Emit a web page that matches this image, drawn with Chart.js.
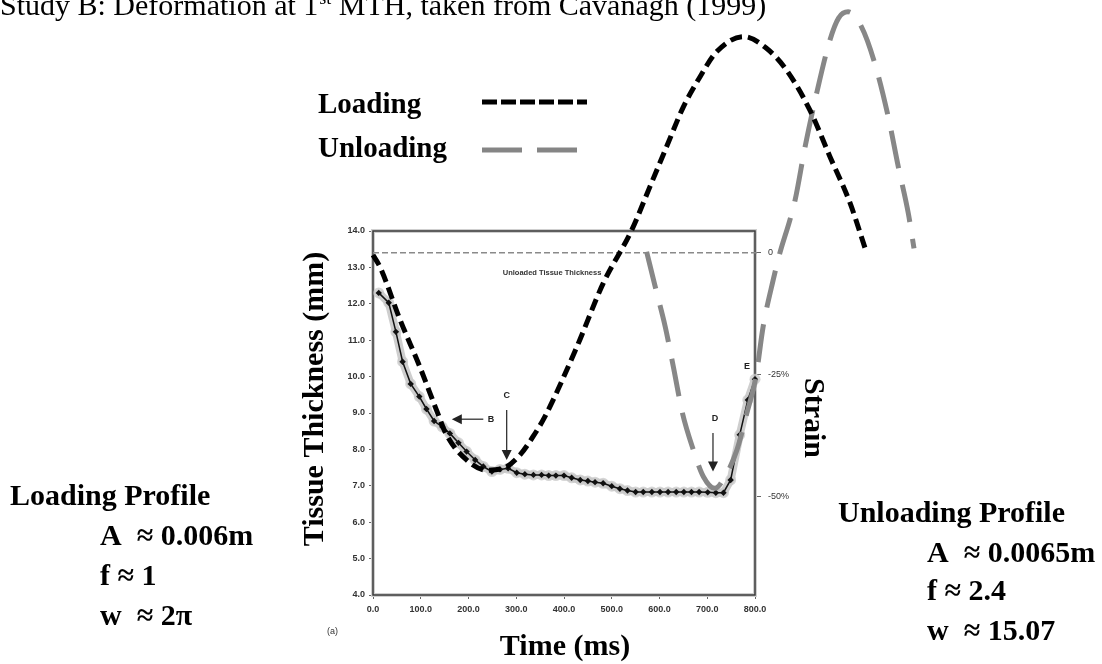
<!DOCTYPE html>
<html>
<head>
<meta charset="utf-8">
<script src="https://cdn.jsdelivr.net/npm/chart.js@4.4.1/dist/chart.umd.min.js"></script>
<style>
  html, body { margin: 0; padding: 0; background: #fff; }
</style>
</head>
<body>
<canvas id="deformChart" width="1102" height="664"></canvas>
<script>
// measured tissue thickness under the 1st MTH (ms, mm)
const measuredTime = [12, 33, 48, 62, 79, 97, 112, 128, 145, 161, 179, 196, 214, 231, 249, 266, 283, 301, 318, 336,
    353, 368, 383, 400, 416, 434, 450, 465, 482, 500, 517, 533, 550, 566, 584, 601, 618, 635, 651, 667,
    683, 701, 718, 734, 749, 768, 785, 800];
const measuredThickness = [12.3, 12.03, 11.23, 10.41, 9.80, 9.45, 9.11, 8.78, 8.62, 8.44, 8.18, 7.94, 7.71, 7.53, 7.39, 7.45, 7.48, 7.36, 7.32, 7.30,
    7.30, 7.28, 7.28, 7.28, 7.22, 7.16, 7.13, 7.10, 7.07, 6.99, 6.92, 6.87, 6.83, 6.83, 6.83, 6.83, 6.83, 6.83, 6.83, 6.83,
    6.83, 6.82, 6.81, 6.81, 7.16, 8.40, 9.36, 9.93];

// fitted loading profile (black short dash)
const loadingTime = [0, 15, 57, 98, 133, 154, 196, 238, 273, 308, 335, 360, 427, 482, 542, 580, 615, 650, 685, 720,
    776, 824, 866, 915, 957, 999, 1034];
const loadingThickness = [13.34, 13.0, 11.55, 10.27, 9.08, 8.40, 7.71, 7.43, 7.48, 7.85, 8.35, 8.9, 10.82, 12.56, 14.03, 15.22, 16.32, 17.41, 18.24, 18.93,
    19.34, 19.02, 18.42, 17.32, 16.04, 14.77, 13.39];

// fitted unloading profile (grey long dash)
const unloadingTime = [573, 591, 612, 629, 648, 671, 692, 716, 737, 762, 783, 802, 817, 838, 852, 873, 884, 905, 929, 957,
    975, 995, 1023, 1051, 1079, 1100, 1121, 1133];
const unloadingThickness = [13.43, 12.47, 11.37, 10.27, 9.0, 7.98, 7.25, 6.93, 7.25, 7.98, 9.0, 10.0, 11.37, 12.65, 13.39, 14.3, 14.85, 16.32, 17.78, 19.25,
    19.85, 20.02, 19.61, 18.6, 17.14, 15.77, 14.49, 13.52];

const unloadedLevel = 13.4;
const timeTicks = [0, 100, 200, 300, 400, 500, 600, 700, 800];
const thicknessTicks = [4, 5, 6, 7, 8, 9, 10, 11, 12, 13, 14];
const strainTicks = [0, -25, -50];
const strainLabels = ['0', '-25%', '-50%'];

// arrow annotations on the original graph
const arrowNames = ['B', 'C', 'D'];
const arrowFrom = [[231, 8.83], [280, 9.08], [712, 8.45]];
const arrowTo = [[165, 8.83], [280, 7.71], [712, 7.39]];
const arrowText = [[247, 8.83], [280, 9.47], [716, 8.85]];
const pointE = [783, 10.27];

const toPoints = (xs, ys) => xs.map((x, i) => ({ x: x, y: ys[i] }));
const serif = "'Liberation Serif', 'Times New Roman', serif";
const sans = "'Liberation Sans', Arial, sans-serif";
const tickFont = { family: sans, size: 9, weight: 'bold' };

const figureText = {
    id: 'figureText',
    beforeDatasetsDraw(chart) {
        const { ctx, chartArea: a } = chart;
        ctx.save();
        ctx.strokeStyle = '#cfcfcf';
        ctx.lineWidth = 4;
        ctx.strokeRect(a.left, a.top, a.right - a.left, a.bottom - a.top);
        ctx.strokeStyle = '#3a3a3a';
        ctx.lineWidth = 1.5;
        ctx.strokeRect(a.left, a.top, a.right - a.left, a.bottom - a.top);
        ctx.restore();
    },
    afterDatasetsDraw(chart) {
        const { ctx, scales: { x, y } } = chart;
        ctx.save();
        ctx.strokeStyle = '#222';
        ctx.fillStyle = '#222';
        ctx.lineWidth = 1.2;
        arrowNames.forEach((name, i) => {
            const x0 = x.getPixelForValue(arrowFrom[i][0]), y0 = y.getPixelForValue(arrowFrom[i][1]);
            const x1 = x.getPixelForValue(arrowTo[i][0]), y1 = y.getPixelForValue(arrowTo[i][1]);
            const ang = Math.atan2(y1 - y0, x1 - x0);
            ctx.beginPath();
            ctx.moveTo(x0, y0);
            ctx.lineTo(x1 - 8 * Math.cos(ang), y1 - 8 * Math.sin(ang));
            ctx.stroke();
            ctx.beginPath();
            ctx.moveTo(x1, y1);
            ctx.lineTo(x1 - 10 * Math.cos(ang) + 5 * Math.sin(ang), y1 - 10 * Math.sin(ang) - 5 * Math.cos(ang));
            ctx.lineTo(x1 - 10 * Math.cos(ang) - 5 * Math.sin(ang), y1 - 10 * Math.sin(ang) + 5 * Math.cos(ang));
            ctx.closePath();
            ctx.fill();
            ctx.font = 'bold 9px ' + sans;
            ctx.textAlign = 'center';
            ctx.textBaseline = 'middle';
            ctx.fillText(name, x.getPixelForValue(arrowText[i][0]), y.getPixelForValue(arrowText[i][1]));
        });
        ctx.fillText('E', x.getPixelForValue(pointE[0]), y.getPixelForValue(pointE[1]));
        ctx.fillStyle = '#333';
        ctx.font = 'bold 7.5px ' + sans;
        ctx.fillText('Unloaded Tissue Thickness', x.getPixelForValue(375), y.getPixelForValue(12.84));
        ctx.restore();
    },
    afterDraw(chart) {
        const ctx = chart.ctx;
        ctx.save();
        ctx.fillStyle = '#000';
        ctx.textBaseline = 'alphabetic';
        ctx.textAlign = 'left';

        // heading with superscript
        ctx.font = '30px ' + serif;
        let part = 'Study B: Deformation at 1';
        ctx.fillText(part, 0, 15);
        let px = ctx.measureText(part).width;
        ctx.font = '18px ' + serif;
        ctx.fillText('st', px + 1, 4);
        px += ctx.measureText('st').width + 1;
        ctx.font = '30px ' + serif;
        ctx.fillText(' MTH, taken from Cavanagh (1999)', px, 15);

        // legend
        ctx.font = 'bold 29px ' + serif;
        ctx.fillText('Loading', 318, 113);
        ctx.fillText('Unloading', 318, 157);
        ctx.lineWidth = 5;
        ctx.strokeStyle = '#000';
        ctx.setLineDash([15, 4]);
        ctx.beginPath(); ctx.moveTo(482, 102); ctx.lineTo(587, 102); ctx.stroke();
        ctx.strokeStyle = '#858585';
        ctx.setLineDash([40, 15]);
        ctx.beginPath(); ctx.moveTo(482, 150); ctx.lineTo(577, 150); ctx.stroke();
        ctx.setLineDash([]);

        // profile notes
        ctx.font = 'bold 30px ' + serif;
        ctx.fillText('Loading Profile', 10, 505);
        ctx.fillText('A  \u2248 0.006m', 100, 545);
        ctx.fillText('f \u2248 1', 100, 585);
        ctx.fillText('w  \u2248 2\u03c0', 100, 625);
        ctx.fillText('Unloading Profile', 838, 522);
        ctx.fillText('A  \u2248 0.0065m', 927, 562);
        ctx.fillText('f \u2248 2.4', 927, 600);
        ctx.fillText('w  \u2248 15.07', 927, 640);

        // axis titles
        ctx.textAlign = 'center';
        ctx.fillText('Time (ms)', 565, 655);
        ctx.save();
        ctx.translate(323, 399);
        ctx.rotate(-Math.PI / 2);
        ctx.fillText('Tissue Thickness (mm)', 0, 0);
        ctx.restore();
        ctx.save();
        ctx.translate(805, 418);
        ctx.rotate(Math.PI / 2);
        ctx.fillText('Strain', 0, 0);
        ctx.restore();

        ctx.font = '9px ' + sans;
        ctx.textAlign = 'left';
        ctx.fillStyle = '#333';
        ctx.fillText('(a)', 327, 634);
        ctx.restore();
    }
};

document.addEventListener('DOMContentLoaded', () => {
    const ctx = document.getElementById('deformChart').getContext('2d');

    new Chart(ctx, {
        type: 'line',
        data: {
            datasets: [
                {
                    label: 'Loading',
                    data: toPoints(loadingTime, loadingThickness),
                    borderColor: '#000',
                    borderWidth: 5,
                    borderDash: [12, 6],
                    pointRadius: 0,
                    cubicInterpolationMode: 'monotone',
                    clip: false
                },
                {
                    label: 'Unloading',
                    data: toPoints(unloadingTime, unloadingThickness),
                    borderColor: '#878787',
                    borderWidth: 5,
                    borderDash: [38, 17],
                    pointRadius: 0,
                    cubicInterpolationMode: 'monotone',
                    clip: false
                },
                {
                    label: 'Measured',
                    data: toPoints(measuredTime, measuredThickness),
                    borderColor: '#111',
                    borderWidth: 1.5,
                    pointStyle: 'rectRot',
                    pointRadius: 3.2,
                    pointBackgroundColor: '#111',
                    pointBorderWidth: 0,
                    tension: 0,
                    clip: false
                },
                {
                    label: 'Measured halo',
                    data: toPoints(measuredTime, measuredThickness),
                    borderColor: 'rgba(190,190,190,0.75)',
                    borderWidth: 8,
                    pointRadius: 5.5,
                    pointBackgroundColor: 'rgba(200,200,200,0.75)',
                    pointBorderWidth: 0,
                    tension: 0,
                    clip: false
                },
                {
                    label: 'Unloaded thickness',
                    data: [{ x: 0, y: unloadedLevel }, { x: 805, y: unloadedLevel }],
                    borderColor: '#8a8a8a',
                    borderWidth: 1.5,
                    borderDash: [6, 3],
                    pointRadius: 0,
                    clip: false
                }
            ]
        },
        options: {
            responsive: false,
            animation: false,
            events: [],
            layout: { padding: { left: 333, right: 307, top: 231, bottom: 39 } },
            plugins: { legend: { display: false }, tooltip: { enabled: false }, title: { display: false } },
            scales: {
                x: {
                    type: 'linear',
                    bounds: 'data',
                    afterDataLimits: (s) => { s.min = 0; s.max = 800; },
                    afterBuildTicks: (s) => { s.ticks = timeTicks.map(v => ({ value: v })); },
                    afterFit: (s) => { s.height = 30; },
                    ticks: { callback: v => v.toFixed(1), font: tickFont, color: '#333', padding: 5, maxRotation: 0, autoSkip: false },
                    grid: { drawOnChartArea: false, drawTicks: true, tickLength: 4, color: '#666' },
                    border: { display: false }
                },
                y: {
                    type: 'linear',
                    min: 4,
                    max: 14,
                    afterBuildTicks: (s) => { s.ticks = thicknessTicks.map(v => ({ value: v })); },
                    afterFit: (s) => { s.width = 40; },
                    ticks: { callback: v => v.toFixed(1), font: tickFont, color: '#333', padding: 4, autoSkip: false },
                    grid: { drawOnChartArea: false, drawTicks: true, tickLength: 4, color: '#666' },
                    border: { display: false }
                },
                y2: {
                    type: 'linear',
                    position: 'right',
                    min: (4 - unloadedLevel) / unloadedLevel * 100,
                    max: (14 - unloadedLevel) / unloadedLevel * 100,
                    afterBuildTicks: (s) => { s.ticks = strainTicks.map(v => ({ value: v })); },
                    afterFit: (s) => { s.width = 40; },
                    ticks: { callback: (v, i) => strainLabels[i], font: { family: sans, size: 9 }, color: '#333', padding: 7, autoSkip: false },
                    grid: { drawOnChartArea: false, drawTicks: true, tickLength: 6, color: '#666' },
                    border: { display: false }
                }
            }
        },
        plugins: [figureText]
    });
});
</script>
</body>
</html>
